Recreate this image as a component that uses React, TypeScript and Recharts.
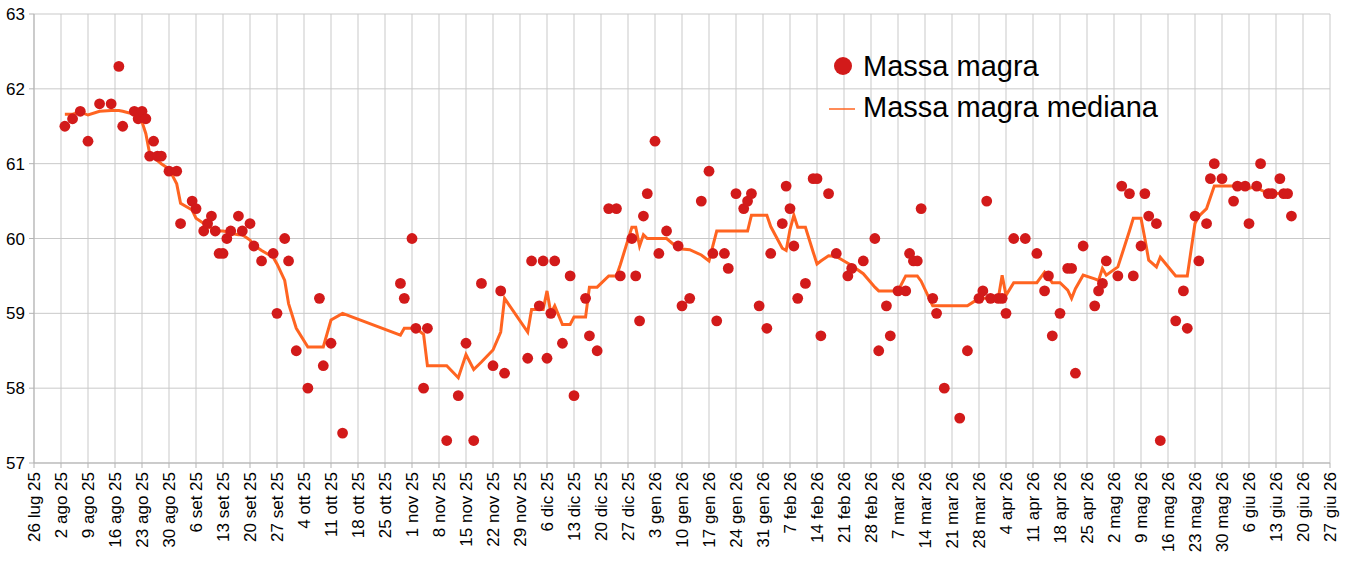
import React from 'react';
import {
  ComposedChart, Scatter, Line, XAxis, YAxis, CartesianGrid, Legend
} from 'recharts';

// days counted from 26 lug 25
const DAYS = [
  8, 10, 12, 14, 17, 20, 22, 23, 26, 27, 28, 29, 30, 31, 32, 33, 35, 37, 38, 41,
  42, 44, 45, 46, 47, 48, 49, 50, 51, 53, 54, 56, 57, 59, 62, 63, 65, 66, 68, 71,
  74, 75, 77, 80, 95, 96, 98, 99, 101, 102, 107, 110, 112, 114, 116, 119, 121, 122, 128, 129,
  131, 132, 133, 134, 135, 137, 139, 140, 143, 144, 146, 149, 151, 152, 155, 156, 157, 158, 159, 161,
  162, 164, 167, 168, 170, 173, 175, 176, 177, 179, 180, 182, 184, 185, 186, 188, 190, 191, 194, 195,
  196, 197, 198, 200, 202, 203, 204, 206, 208, 211, 212, 215, 218, 219, 221, 222, 224, 226, 227, 228,
  229, 230, 233, 234, 236, 240, 242, 245, 246, 247, 248, 250, 251, 252, 254, 257, 260, 262, 263, 264,
  266, 268, 269, 270, 272, 275, 276, 277, 278, 281, 282, 284, 285, 287, 288, 289, 291, 292, 296, 298,
  299, 301, 302, 304, 305, 306, 308, 311, 312, 314, 315, 317, 318, 320, 321, 323, 324, 325, 326,
];

const MASSA_MAGRA = [
  61.5, 61.6, 61.7, 61.3, 61.8, 61.8, 62.3, 61.5, 61.7, 61.6, 61.7, 61.6, 61.1, 61.3, 61.1, 61.1, 60.9, 60.9, 60.2, 60.5,
  60.4, 60.1, 60.2, 60.3, 60.1, 59.8, 59.8, 60.0, 60.1, 60.3, 60.1, 60.2, 59.9, 59.7, 59.8, 59.0, 60.0, 59.7, 58.5, 58.0,
  59.2, 58.3, 58.6, 57.4, 59.4, 59.2, 60.0, 58.8, 58.0, 58.8, 57.3, 57.9, 58.6, 57.3, 59.4, 58.3, 59.3, 58.2, 58.4, 59.7,
  59.1, 59.7, 58.4, 59.0, 59.7, 58.6, 59.5, 57.9, 59.2, 58.7, 58.5, 60.4, 60.4, 59.5, 60.0, 59.5, 58.9, 60.3, 60.6, 61.3,
  59.8, 60.1, 59.9, 59.1, 59.2, 60.5, 60.9, 59.8, 58.9, 59.8, 59.6, 60.6, 60.4, 60.5, 60.6, 59.1, 58.8, 59.8, 60.2, 60.7,
  60.4, 59.9, 59.2, 59.4, 60.8, 60.8, 58.7, 60.6, 59.8, 59.5, 59.6, 59.7, 60.0, 58.5, 59.1, 58.7, 59.3, 59.3, 59.8, 59.7,
  59.7, 60.4, 59.2, 59.0, 58.0, 57.6, 58.5, 59.2, 59.3, 60.5, 59.2, 59.2, 59.2, 59.0, 60.0, 60.0, 59.8, 59.3, 59.5, 58.7,
  59.0, 59.6, 59.6, 58.2, 59.9, 59.1, 59.3, 59.4, 59.7, 59.5, 60.7, 60.6, 59.5, 59.9, 60.6, 60.3, 60.2, 57.3, 58.9, 59.3,
  58.8, 60.3, 59.7, 60.2, 60.8, 61.0, 60.8, 60.5, 60.7, 60.7, 60.2, 60.7, 61.0, 60.6, 60.6, 60.8, 60.6, 60.6, 60.3,
];

const MASSA_MAGRA_MEDIANA = [
  61.66, 61.66, 61.69, 61.65, 61.7, 61.71, 61.71, 61.7, 61.66, 61.62, 61.56, 61.4, 61.13, 61.09, 61.04, 61.0, 60.93, 60.73, 60.47, 60.38,
  60.27, 60.2, 60.18, 60.13, 60.1, 60.1, 60.1, 60.09, 60.07, 60.05, 60.05, 59.98, 59.91, 59.84, 59.75, 59.66, 59.44, 59.13, 58.8, 58.55,
  58.55, 58.55, 58.91, 59.0, 58.71, 58.8, 58.8, 58.8, 58.72, 58.3, 58.3, 58.14, 58.45, 58.25, 58.35, 58.51, 58.75, 59.2, 58.75, 59.05,
  59.05, 59.05, 59.3, 59.0, 59.1, 58.85, 58.85, 58.95, 58.95, 59.35, 59.35, 59.5, 59.5, 59.65, 60.15, 60.15, 59.9, 60.05, 60.0, 60.0,
  60.0, 60.0, 59.87, 59.86, 59.85, 59.78, 59.7, 59.9, 60.1, 60.1, 60.1, 60.1, 60.1, 60.1, 60.31, 60.31, 60.31, 60.16, 59.87, 59.84,
  60.12, 60.31, 60.15, 60.15, 59.82, 59.66, 59.7, 59.77, 59.76, 59.67, 59.64, 59.53, 59.35, 59.3, 59.3, 59.3, 59.3, 59.5, 59.5, 59.5,
  59.5, 59.43, 59.1, 59.1, 59.1, 59.1, 59.1, 59.2, 59.2, 59.2, 59.2, 59.2, 59.51, 59.24, 59.41, 59.41, 59.41, 59.55, 59.48, 59.41,
  59.41, 59.31, 59.2, 59.33, 59.51, 59.46, 59.44, 59.6, 59.51, 59.62, 59.78, 60.1, 60.27, 60.27, 60.0, 59.71, 59.62, 59.75, 59.5, 59.5,
  59.5, 60.2, 60.3, 60.4, 60.55, 60.7, 60.7, 60.7, 60.7, 60.7, 60.67, 60.7, 60.65, 60.6, 60.6, 60.6, 60.6, 60.6, 60.6,
];

const TICK_LABELS = [
  '26 lug 25', '2 ago 25', '9 ago 25', '16 ago 25', '23 ago 25', '30 ago 25', '6 set 25', '13 set 25',
  '20 set 25', '27 set 25', '4 ott 25', '11 ott 25', '18 ott 25', '25 ott 25', '1 nov 25', '8 nov 25',
  '15 nov 25', '22 nov 25', '29 nov 25', '6 dic 25', '13 dic 25', '20 dic 25', '27 dic 25', '3 gen 26',
  '10 gen 26', '17 gen 26', '24 gen 26', '31 gen 26', '7 feb 26', '14 feb 26', '21 feb 26', '28 feb 26',
  '7 mar 26', '14 mar 26', '21 mar 26', '28 mar 26', '4 apr 26', '11 apr 26', '18 apr 26', '25 apr 26',
  '2 mag 26', '9 mag 26', '16 mag 26', '23 mag 26', '30 mag 26', '6 giu 26', '13 giu 26', '20 giu 26',
  '27 giu 26',
];
const TICK_DAYS = TICK_LABELS.map((_, i) => i * 7);
const Y_TICKS = [57, 58, 59, 60, 61, 62, 63];

const FONT = '"Liberation Sans", Arial, Helvetica, sans-serif';
const RED = '#d21a1a';
const ORANGE = '#ff6421';

const data = DAYS.map((day, i) => ({
  day,
  value: MASSA_MAGRA[i],
  median: MASSA_MAGRA_MEDIANA[i],
}));

const DateTick = (props: any) => {
  const { x, y, payload } = props;
  const idx = TICK_DAYS.indexOf(payload.value);
  return (
    <text
      x={x}
      y={y}
      transform={`rotate(-90, ${x}, ${y})`}
      textAnchor="end"
      dy="0.35em"
      fontSize={17}
      fontFamily={FONT}
      fill="#000"
    >
      {idx >= 0 ? TICK_LABELS[idx] : ''}
    </text>
  );
};

const Dot = (props: any) => {
  const { cx, cy } = props;
  if (cx == null || cy == null) return null;
  return <circle cx={cx} cy={cy} r={5.4} fill={RED} />;
};

const ChartLegend = () => (
  <svg width={380} height={90} style={{ display: 'block' }}>
    <circle cx={23} cy={22} r={9} fill={RED} />
    <text x={43} y={32} fontSize={29} fontFamily={FONT} fill="#000">Massa magra</text>
    <line x1={9} x2={35} y1={65} y2={65} stroke={ORANGE} strokeWidth={1.5} />
    <text x={43} y={73} fontSize={29} fontFamily={FONT} fill="#000">Massa magra mediana</text>
  </svg>
);

const App: React.FC = () => {
  return (
    <div style={{ position: 'absolute', left: 0, top: 0, background: '#fff' }}>
      <ComposedChart
        width={1345}
        height={565}
        data={data}
        margin={{ top: 14, right: 15, bottom: 0, left: 0 }}
      >
        <CartesianGrid stroke="#c9c9c9" strokeWidth={1} />
        <XAxis
          dataKey="day"
          type="number"
          domain={[0, 336]}
          ticks={TICK_DAYS}
          interval={0}
          height={102}
          tick={<DateTick />}
          tickSize={5}
          tickMargin={4}
          stroke="#b3b3b3"
        />
        <YAxis
          type="number"
          domain={[57, 63]}
          ticks={Y_TICKS}
          width={34}
          tickSize={5}
          tickMargin={4}
          stroke="#b3b3b3"
          tick={{ fill: '#000', fontSize: 17, fontFamily: FONT }}
        />
        <Legend
          layout="vertical"
          align="center"
          verticalAlign="middle"
          content={<ChartLegend />}
          wrapperStyle={{ left: 820, top: 44, width: 380, height: 90 }}
        />
        <Scatter
          name="Massa magra"
          dataKey="value"
          fill={RED}
          shape={<Dot />}
          isAnimationActive={false}
        />
        <Line
          name="Massa magra mediana"
          type="linear"
          dataKey="median"
          stroke={ORANGE}
          strokeWidth={3}
          dot={false}
          activeDot={false}
          isAnimationActive={false}
        />
      </ComposedChart>
    </div>
  );
};

export default App;
